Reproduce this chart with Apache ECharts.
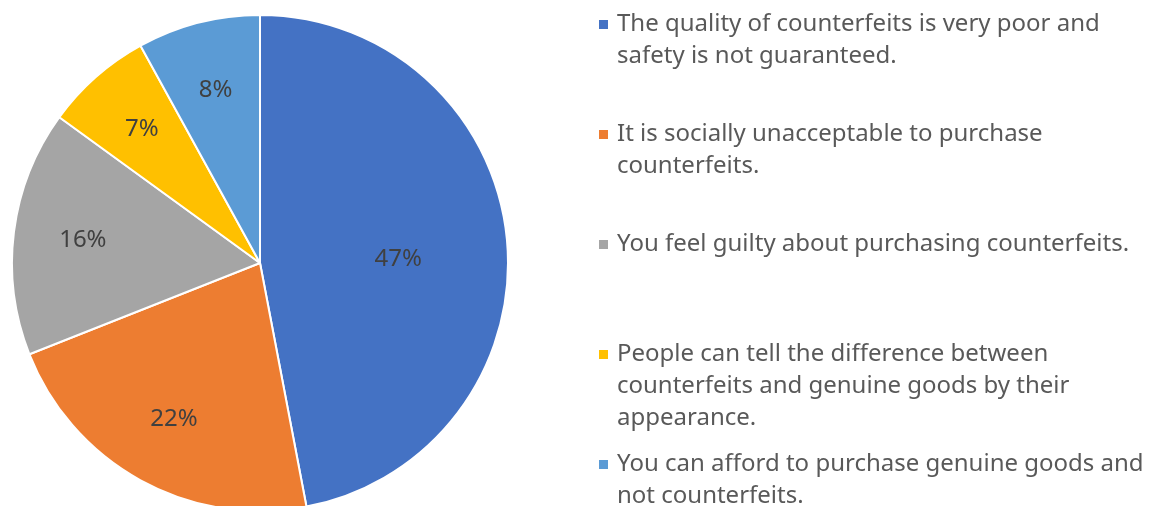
<!DOCTYPE html>
<html>
<head>
<meta charset="utf-8">
<script src="https://cdn.jsdelivr.net/npm/echarts@6/dist/echarts.min.js"></script>
<style>
  html, body { margin: 0; padding: 0; background: #fff; }
  #chart { width: 1152px; height: 506px; }
</style>
</head>
<body>
<div id="chart"></div>
<script>
const reasons = [
  'The quality of counterfeits is very poor and safety is not guaranteed.',
  'It is socially unacceptable to purchase counterfeits.',
  'You feel guilty about purchasing counterfeits.',
  'People can tell the difference between counterfeits and genuine goods by their appearance.',
  'You can afford to purchase genuine goods and not counterfeits.'
]
// wrapped the way the legend shows them
const legendText = [
  'The quality of counterfeits is very poor and\nsafety is not guaranteed.',
  'It is socially unacceptable to purchase\ncounterfeits.',
  'You feel guilty about purchasing counterfeits.',
  'People can tell the difference between\ncounterfeits and genuine goods by their\nappearance.',
  'You can afford to purchase genuine goods and\nnot counterfeits.'
]
const shares = [47, 22, 16, 7, 8]
const colors = ['#4472C4', '#ED7D31', '#A5A5A5', '#FFC000', '#5B9BD5']

const font = '"Noto Sans", "Open Sans", sans-serif'
const pieCenter = [260, 263]
const pieRadius = 248
const lineH = 32
const firstLineY = 21.5
const slot = 110

const chart = echarts.init(document.getElementById('chart'))

// one legend per entry so the marker sits on the first text line
const legends = reasons.map((name, i) => {
  const n = legendText[i].split('\n').length
  return {
    orient: 'vertical',
    left: 597,
    top: firstLineY + slot * i - 9,
    padding: 0,
    itemWidth: 11,
    itemHeight: 11,
    icon: 'rect',
    selectedMode: false,
    formatter: () => '{t|' + legendText[i] + '}',
    textStyle: {
      padding: [lineH * (n - 1), 0, 0, 3],
      rich: { t: { fontFamily: font, fontSize: 24, lineHeight: lineH, color: '#595959' } }
    },
    data: [name]
  }
})

chart.setOption({
  animation: false,
  color: colors,
  legend: legends,
  series: [
    {
      type: 'pie',
      center: pieCenter,
      radius: pieRadius,
      startAngle: 90,
      clockwise: true,
      itemStyle: { borderColor: '#fff', borderWidth: 2 },
      label: {
        position: 'inside',
        formatter: '{c}%',
        fontFamily: font,
        fontSize: 24,
        color: '#404040'
      },
      labelLine: { show: false },
      // push labels out from the middle radius, like Excel's best fit
      labelLayout: (p) => {
        const r = p.labelRect
        const dx = r.x + r.width / 2 - pieCenter[0]
        const dy = r.y + r.height / 2 - pieCenter[1]
        const k = (p.dataIndex === 0 ? 0.56 : 0.72) * pieRadius / Math.hypot(dx, dy)
        return { dx: dx * (k - 1), dy: dy * (k - 1) + (p.dataIndex === 0 ? 9 : 0) }
      },
      data: reasons.map((name, i) => ({ name, value: shares[i] }))
    }
  ]
})
</script>
</body>
</html>
